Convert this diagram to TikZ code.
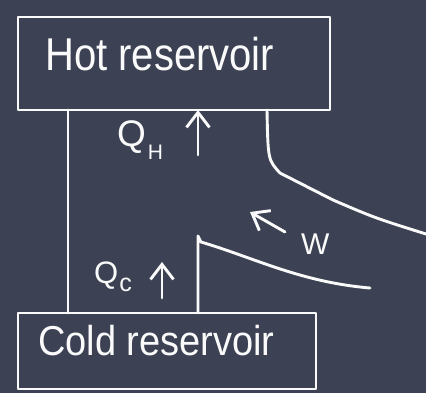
\documentclass[tikz,border=0pt]{standalone}
\usepackage{fontspec}
\setmainfont{Liberation Sans}
\usetikzlibrary{arrows.meta}
\definecolor{slate}{RGB}{60,66,84}
\definecolor{chalk}{RGB}{250,250,250}
\begin{document}
\begin{tikzpicture}[x=1pt,y=-1pt,
  chalkline/.style={draw=chalk,line width=2.9pt,line cap=round,line join=round},
  reservoir/.style={chalkline,rectangle,inner sep=0pt,outer sep=0pt},
  flow/.style={chalkline,-{Straight Barb[length=15pt,width=23pt]}},
  label/.style={text=chalk,inner sep=0pt,anchor=base west}]
\fill[slate] (0,0) rectangle (426,393);
\useasboundingbox (0,0) rectangle (426,393);
% reservoirs
\node[reservoir,minimum width=312pt,minimum height=93pt] (hot) at (174,63.5) {};
\node[reservoir,minimum width=298pt,minimum height=76pt] (cold) at (167,351) {};
\node[label,font=\fontsize{40}{40}\selectfont,yscale=1.15] (hottext) at (45,71) {Hot reservoir};
\node[label,font=\fontsize{38}{38}\selectfont,yscale=1.1] (coldtext) at (38,355) {Cold reservoir};
% labels
\node[label,font=\fontsize{37}{37}\selectfont] (qh) at (117,147) {Q\kern2pt\raisebox{-13pt}{\fontsize{21}{21}\selectfont H}};
\node[label,font=\fontsize{31}{31}\selectfont] (qc) at (94,283) {Q\kern1pt\raisebox{-8pt}{\fontsize{25}{25}\selectfont c}};
\node[label,font=\fontsize{30}{30}\selectfont] (w) at (301,254) {W};
% coordinates
\coordinate (lx) at (68,0);
\coordinate (qhtail) at (198,155);
\coordinate (ex) at (267,0);
\coordinate (bend) at (280,173);
\coordinate (exh) at (333,200);
\coordinate (exend) at (426,234);
\coordinate (wx) at (198,0);
\coordinate (wtop) at (198,236);
\coordinate (wstart) at (201,242);
\coordinate (wend) at (370,288);
\coordinate (wtail) at (285,232);
\coordinate (whead) at (250,212);
\coordinate (qctail) at (162,298);
\coordinate (qchead) at (162,262);
% connectors
\draw[chalkline] (hot.south -| lx) -- (cold.north -| lx);
\draw[flow] (qhtail) -- (hot.south -| qhtail);
\draw[chalkline] (hot.south -| ex) .. controls (268,160) .. (bend) -- (exh) .. controls (375,218) .. (exend);
\draw[chalkline] (cold.north -| wx) -- (wtop) -- (wstart) .. controls (255,258) and (300,282) .. (wend);
\draw[flow] (wtail) -- (whead);
\draw[flow] (qctail) -- (qchead);
\end{tikzpicture}
\end{document}
